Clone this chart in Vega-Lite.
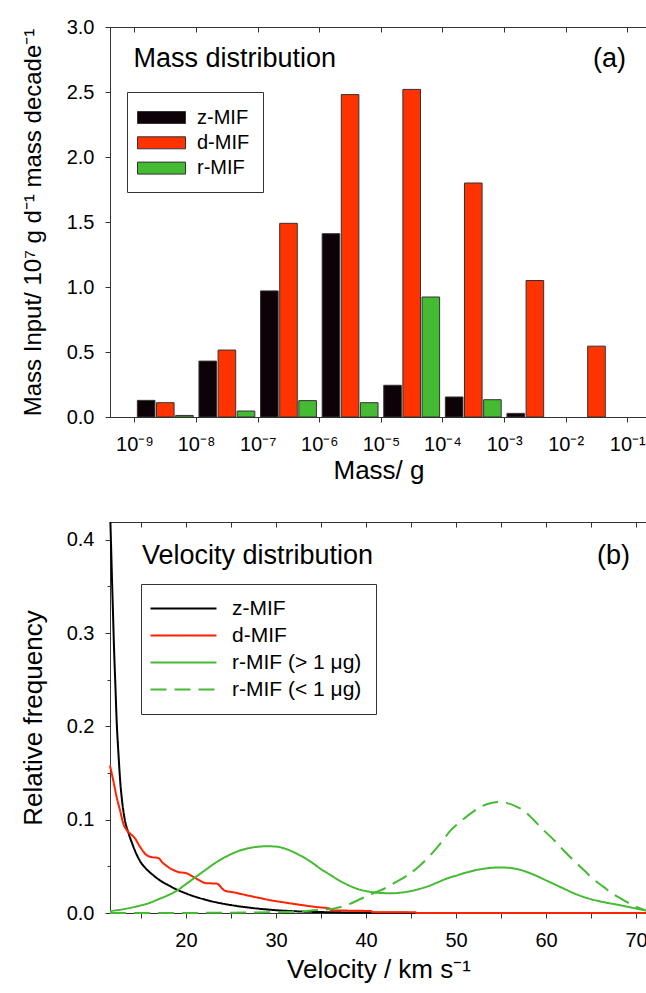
{
  "$schema": "https://vega.github.io/schema/vega-lite/v6.json",
  "padding": {"top": 16, "left": 19, "right": 0, "bottom": 0},
  "spacing": 33,
  "resolve": {
    "scale": {"color": "independent", "strokeDash": "independent"},
    "legend": {"color": "independent", "strokeDash": "independent"}
  },
  "config": {
    "font": "Liberation Sans",
    "view": {"stroke": "#333", "strokeWidth": 1},
    "axis": {
      "labelFont": "Liberation Sans", "titleFont": "Liberation Sans",
      "labelFontSize": 20, "titleFontSize": 26, "titleFontWeight": "normal",
      "labelColor": "#000", "titleColor": "#000", "tickColor": "#333", "domainColor": "#333",
      "tickSize": 5, "grid": false, "labelFlush": false, "labelOverlap": false
    },
    "text": {"font": "Liberation Sans"}
  },
  "datasets": {
    "mass": [
      {"bin": "1e-9", "series": "z-MIF", "value": 0.128},
      {"bin": "1e-9", "series": "d-MIF", "value": 0.11},
      {"bin": "1e-9", "series": "r-MIF", "value": 0.012},
      {"bin": "1e-8", "series": "z-MIF", "value": 0.43},
      {"bin": "1e-8", "series": "d-MIF", "value": 0.515},
      {"bin": "1e-8", "series": "r-MIF", "value": 0.046},
      {"bin": "1e-7", "series": "z-MIF", "value": 0.97},
      {"bin": "1e-7", "series": "d-MIF", "value": 1.49},
      {"bin": "1e-7", "series": "r-MIF", "value": 0.126},
      {"bin": "1e-6", "series": "z-MIF", "value": 1.41},
      {"bin": "1e-6", "series": "d-MIF", "value": 2.48},
      {"bin": "1e-6", "series": "r-MIF", "value": 0.11},
      {"bin": "1e-5", "series": "z-MIF", "value": 0.244},
      {"bin": "1e-5", "series": "d-MIF", "value": 2.52},
      {"bin": "1e-5", "series": "r-MIF", "value": 0.923},
      {"bin": "1e-4", "series": "z-MIF", "value": 0.154},
      {"bin": "1e-4", "series": "d-MIF", "value": 1.8},
      {"bin": "1e-4", "series": "r-MIF", "value": 0.133},
      {"bin": "1e-3", "series": "z-MIF", "value": 0.028},
      {"bin": "1e-3", "series": "d-MIF", "value": 1.05},
      {"bin": "1e-2", "series": "d-MIF", "value": 0.545}
    ],
    "notesA": [
      {"m": 9.64e-10, "value": 2.69, "label": "Mass distribution"},
      {"m": 0.0277, "value": 2.69, "label": "(a)"}
    ],
    "notesB": [
      {"v": 15.11, "f": 0.374, "label": "Velocity distribution"},
      {"v": 65.67, "f": 0.374, "label": "(b)"}
    ],
    "vel": [
      {"series": "z-MIF", "v": 11.6, "f": 0.419},
      {"series": "z-MIF", "v": 11.7, "f": 0.385},
      {"series": "z-MIF", "v": 11.8, "f": 0.35},
      {"series": "z-MIF", "v": 11.9, "f": 0.318},
      {"series": "z-MIF", "v": 12.0, "f": 0.285},
      {"series": "z-MIF", "v": 12.15, "f": 0.245},
      {"series": "z-MIF", "v": 12.3, "f": 0.205},
      {"series": "z-MIF", "v": 12.5, "f": 0.17},
      {"series": "z-MIF", "v": 12.7, "f": 0.14},
      {"series": "z-MIF", "v": 12.9, "f": 0.12},
      {"series": "z-MIF", "v": 13.2, "f": 0.1},
      {"series": "z-MIF", "v": 13.6, "f": 0.086},
      {"series": "z-MIF", "v": 14.0, "f": 0.075},
      {"series": "z-MIF", "v": 14.5, "f": 0.063},
      {"series": "z-MIF", "v": 15.0, "f": 0.054},
      {"series": "z-MIF", "v": 15.6, "f": 0.047},
      {"series": "z-MIF", "v": 16.3, "f": 0.041},
      {"series": "z-MIF", "v": 17.1, "f": 0.035},
      {"series": "z-MIF", "v": 18.0, "f": 0.03},
      {"series": "z-MIF", "v": 19.0, "f": 0.025},
      {"series": "z-MIF", "v": 20.0, "f": 0.021},
      {"series": "z-MIF", "v": 21.0, "f": 0.0175},
      {"series": "z-MIF", "v": 22.0, "f": 0.0147},
      {"series": "z-MIF", "v": 23.0, "f": 0.0122},
      {"series": "z-MIF", "v": 24.0, "f": 0.0102},
      {"series": "z-MIF", "v": 25.0, "f": 0.0085},
      {"series": "z-MIF", "v": 26.0, "f": 0.007},
      {"series": "z-MIF", "v": 27.0, "f": 0.0058},
      {"series": "z-MIF", "v": 28.0, "f": 0.0047},
      {"series": "z-MIF", "v": 29.0, "f": 0.0038},
      {"series": "z-MIF", "v": 30.0, "f": 0.003},
      {"series": "z-MIF", "v": 31.0, "f": 0.0024},
      {"series": "z-MIF", "v": 32.0, "f": 0.0019},
      {"series": "z-MIF", "v": 33.0, "f": 0.0015},
      {"series": "z-MIF", "v": 35.0, "f": 0.001},
      {"series": "z-MIF", "v": 37.0, "f": 0.0007},
      {"series": "z-MIF", "v": 39.0, "f": 0.0005},
      {"series": "z-MIF", "v": 41.0, "f": 0.0003},
      {"series": "z-MIF", "v": 43.0, "f": 0.0002},
      {"series": "z-MIF", "v": 45.5, "f": 0.0001},
      {"series": "d-MIF", "v": 11.556, "f": 0.158},
      {"series": "d-MIF", "v": 11.92, "f": 0.142},
      {"series": "d-MIF", "v": 12.3, "f": 0.124},
      {"series": "d-MIF", "v": 12.67, "f": 0.11},
      {"series": "d-MIF", "v": 13.03, "f": 0.096},
      {"series": "d-MIF", "v": 13.4, "f": 0.089},
      {"series": "d-MIF", "v": 13.8, "f": 0.085},
      {"series": "d-MIF", "v": 14.33, "f": 0.08},
      {"series": "d-MIF", "v": 14.89, "f": 0.071},
      {"series": "d-MIF", "v": 15.63, "f": 0.062},
      {"series": "d-MIF", "v": 16.1, "f": 0.06},
      {"series": "d-MIF", "v": 16.9, "f": 0.059},
      {"series": "d-MIF", "v": 17.4, "f": 0.054},
      {"series": "d-MIF", "v": 18.22, "f": 0.048},
      {"series": "d-MIF", "v": 19.14, "f": 0.044},
      {"series": "d-MIF", "v": 20.08, "f": 0.0425},
      {"series": "d-MIF", "v": 20.81, "f": 0.0386},
      {"series": "d-MIF", "v": 21.5, "f": 0.035},
      {"series": "d-MIF", "v": 22.2, "f": 0.032},
      {"series": "d-MIF", "v": 23.4, "f": 0.0315},
      {"series": "d-MIF", "v": 24.3, "f": 0.024},
      {"series": "d-MIF", "v": 25.26, "f": 0.0222},
      {"series": "d-MIF", "v": 26.75, "f": 0.019},
      {"series": "d-MIF", "v": 28.22, "f": 0.016},
      {"series": "d-MIF", "v": 29.5, "f": 0.0135},
      {"series": "d-MIF", "v": 30.8, "f": 0.0115},
      {"series": "d-MIF", "v": 32.5, "f": 0.009},
      {"series": "d-MIF", "v": 34.5, "f": 0.0064},
      {"series": "d-MIF", "v": 36.0, "f": 0.0047},
      {"series": "d-MIF", "v": 36.1, "f": 0.003},
      {"series": "d-MIF", "v": 40.6, "f": 0.002},
      {"series": "d-MIF", "v": 40.7, "f": 0.0008},
      {"series": "d-MIF", "v": 45.5, "f": 0.0008},
      {"series": "d-MIF", "v": 45.6, "f": 0},
      {"series": "d-MIF", "v": 71.22, "f": 0},
      {"series": "r-MIF (> 1 μg)", "v": 11.556, "f": 0.002},
      {"series": "r-MIF (> 1 μg)", "v": 13, "f": 0.004},
      {"series": "r-MIF (> 1 μg)", "v": 14.5, "f": 0.007},
      {"series": "r-MIF (> 1 μg)", "v": 16, "f": 0.011},
      {"series": "r-MIF (> 1 μg)", "v": 17, "f": 0.015},
      {"series": "r-MIF (> 1 μg)", "v": 18, "f": 0.019},
      {"series": "r-MIF (> 1 μg)", "v": 19, "f": 0.024},
      {"series": "r-MIF (> 1 μg)", "v": 20, "f": 0.031},
      {"series": "r-MIF (> 1 μg)", "v": 21, "f": 0.038},
      {"series": "r-MIF (> 1 μg)", "v": 22, "f": 0.045},
      {"series": "r-MIF (> 1 μg)", "v": 23, "f": 0.052},
      {"series": "r-MIF (> 1 μg)", "v": 24, "f": 0.058},
      {"series": "r-MIF (> 1 μg)", "v": 25, "f": 0.063},
      {"series": "r-MIF (> 1 μg)", "v": 26, "f": 0.067},
      {"series": "r-MIF (> 1 μg)", "v": 27, "f": 0.0695},
      {"series": "r-MIF (> 1 μg)", "v": 28, "f": 0.071},
      {"series": "r-MIF (> 1 μg)", "v": 29, "f": 0.0715},
      {"series": "r-MIF (> 1 μg)", "v": 30, "f": 0.0712},
      {"series": "r-MIF (> 1 μg)", "v": 31, "f": 0.069},
      {"series": "r-MIF (> 1 μg)", "v": 32, "f": 0.065},
      {"series": "r-MIF (> 1 μg)", "v": 33, "f": 0.06},
      {"series": "r-MIF (> 1 μg)", "v": 34, "f": 0.054},
      {"series": "r-MIF (> 1 μg)", "v": 35, "f": 0.047},
      {"series": "r-MIF (> 1 μg)", "v": 36, "f": 0.041},
      {"series": "r-MIF (> 1 μg)", "v": 37, "f": 0.035},
      {"series": "r-MIF (> 1 μg)", "v": 38, "f": 0.03},
      {"series": "r-MIF (> 1 μg)", "v": 39, "f": 0.026},
      {"series": "r-MIF (> 1 μg)", "v": 40, "f": 0.0235},
      {"series": "r-MIF (> 1 μg)", "v": 41, "f": 0.022},
      {"series": "r-MIF (> 1 μg)", "v": 42, "f": 0.0213},
      {"series": "r-MIF (> 1 μg)", "v": 43, "f": 0.0212},
      {"series": "r-MIF (> 1 μg)", "v": 44, "f": 0.022},
      {"series": "r-MIF (> 1 μg)", "v": 45, "f": 0.0235},
      {"series": "r-MIF (> 1 μg)", "v": 46, "f": 0.026},
      {"series": "r-MIF (> 1 μg)", "v": 47, "f": 0.029},
      {"series": "r-MIF (> 1 μg)", "v": 48, "f": 0.033},
      {"series": "r-MIF (> 1 μg)", "v": 49, "f": 0.037},
      {"series": "r-MIF (> 1 μg)", "v": 50, "f": 0.04},
      {"series": "r-MIF (> 1 μg)", "v": 51, "f": 0.043},
      {"series": "r-MIF (> 1 μg)", "v": 52, "f": 0.0455},
      {"series": "r-MIF (> 1 μg)", "v": 53, "f": 0.0473},
      {"series": "r-MIF (> 1 μg)", "v": 54, "f": 0.0485},
      {"series": "r-MIF (> 1 μg)", "v": 55, "f": 0.0488},
      {"series": "r-MIF (> 1 μg)", "v": 56, "f": 0.0483},
      {"series": "r-MIF (> 1 μg)", "v": 57, "f": 0.0465},
      {"series": "r-MIF (> 1 μg)", "v": 58, "f": 0.0435},
      {"series": "r-MIF (> 1 μg)", "v": 59, "f": 0.0395},
      {"series": "r-MIF (> 1 μg)", "v": 60, "f": 0.035},
      {"series": "r-MIF (> 1 μg)", "v": 61, "f": 0.0305},
      {"series": "r-MIF (> 1 μg)", "v": 62, "f": 0.026},
      {"series": "r-MIF (> 1 μg)", "v": 63, "f": 0.0215},
      {"series": "r-MIF (> 1 μg)", "v": 64, "f": 0.0178},
      {"series": "r-MIF (> 1 μg)", "v": 65, "f": 0.0148},
      {"series": "r-MIF (> 1 μg)", "v": 66, "f": 0.0125},
      {"series": "r-MIF (> 1 μg)", "v": 67, "f": 0.0105},
      {"series": "r-MIF (> 1 μg)", "v": 68, "f": 0.0088},
      {"series": "r-MIF (> 1 μg)", "v": 69, "f": 0.0068},
      {"series": "r-MIF (> 1 μg)", "v": 70, "f": 0.0048},
      {"series": "r-MIF (> 1 μg)", "v": 71.22, "f": 0.0025},
      {"series": "r-MIF (< 1 μg)", "v": 11.556, "f": 0},
      {"series": "r-MIF (< 1 μg)", "v": 20, "f": 0.0001},
      {"series": "r-MIF (< 1 μg)", "v": 25, "f": 0.0003},
      {"series": "r-MIF (< 1 μg)", "v": 30, "f": 0.0008},
      {"series": "r-MIF (< 1 μg)", "v": 33, "f": 0.002},
      {"series": "r-MIF (< 1 μg)", "v": 35, "f": 0.0035},
      {"series": "r-MIF (< 1 μg)", "v": 36.4, "f": 0.0047},
      {"series": "r-MIF (< 1 μg)", "v": 38, "f": 0.009},
      {"series": "r-MIF (< 1 μg)", "v": 39.4, "f": 0.015},
      {"series": "r-MIF (< 1 μg)", "v": 40.5, "f": 0.02},
      {"series": "r-MIF (< 1 μg)", "v": 42, "f": 0.026},
      {"series": "r-MIF (< 1 μg)", "v": 43.3, "f": 0.033},
      {"series": "r-MIF (< 1 μg)", "v": 44.55, "f": 0.04},
      {"series": "r-MIF (< 1 μg)", "v": 46, "f": 0.051},
      {"series": "r-MIF (< 1 μg)", "v": 47.15, "f": 0.062},
      {"series": "r-MIF (< 1 μg)", "v": 48.3, "f": 0.075},
      {"series": "r-MIF (< 1 μg)", "v": 49.4, "f": 0.0886},
      {"series": "r-MIF (< 1 μg)", "v": 50.5, "f": 0.098},
      {"series": "r-MIF (< 1 μg)", "v": 51.6, "f": 0.1065},
      {"series": "r-MIF (< 1 μg)", "v": 52.6, "f": 0.113},
      {"series": "r-MIF (< 1 μg)", "v": 53.6, "f": 0.117},
      {"series": "r-MIF (< 1 μg)", "v": 54.6, "f": 0.119},
      {"series": "r-MIF (< 1 μg)", "v": 55.6, "f": 0.118},
      {"series": "r-MIF (< 1 μg)", "v": 56.6, "f": 0.1145},
      {"series": "r-MIF (< 1 μg)", "v": 57.5, "f": 0.11},
      {"series": "r-MIF (< 1 μg)", "v": 58.6, "f": 0.1},
      {"series": "r-MIF (< 1 μg)", "v": 59.75, "f": 0.0886},
      {"series": "r-MIF (< 1 μg)", "v": 60.9, "f": 0.078},
      {"series": "r-MIF (< 1 μg)", "v": 61.97, "f": 0.067},
      {"series": "r-MIF (< 1 μg)", "v": 63.1, "f": 0.056},
      {"series": "r-MIF (< 1 μg)", "v": 64.2, "f": 0.046},
      {"series": "r-MIF (< 1 μg)", "v": 65.3, "f": 0.036},
      {"series": "r-MIF (< 1 μg)", "v": 66.4, "f": 0.028},
      {"series": "r-MIF (< 1 μg)", "v": 67.5, "f": 0.02},
      {"series": "r-MIF (< 1 μg)", "v": 68.65, "f": 0.0136},
      {"series": "r-MIF (< 1 μg)", "v": 69.8, "f": 0.0075},
      {"series": "r-MIF (< 1 μg)", "v": 71.0, "f": 0.003}
    ],
    "ticksA": [{"m": 1e-9}, {"m": 1e-1}]
  },
  "vconcat": [
    {
      "width": 537,
      "height": 390,
      "layer": [
        {
          "data": {"name": "mass"},
          "mark": {"type": "bar", "stroke": "#333", "strokeWidth": 1},
          "encoding": {
            "x": {
              "field": "bin", "type": "ordinal",
              "scale": {"domain": ["1e-9", "1e-8", "1e-7", "1e-6", "1e-5", "1e-4", "1e-3", "1e-2"], "paddingInner": 0, "paddingOuter": 0.3588, "align": 0.554},
              "axis": null
            },
            "xOffset": {
              "field": "series", "type": "nominal",
              "scale": {"domain": ["z-MIF", "d-MIF", "r-MIF"], "paddingInner": 0.08, "paddingOuter": 0.15}
            },
            "y": {
              "field": "value", "type": "quantitative",
              "scale": {"domain": [0, 3], "nice": false},
              "axis": {
                "orient": "left", "values": [0, 0.5, 1, 1.5, 2, 2.5, 3], "format": ".1f",
                "labelPadding": 11, "titlePadding": 21, "titleFontSize": 24,
                "title": "Mass Input/ 10⁷ g d⁻¹ mass decade⁻¹"
              }
            },
            "color": {
              "field": "series", "type": "nominal",
              "scale": {"domain": ["z-MIF", "d-MIF", "r-MIF"], "range": ["#0c0208", "#ff3300", "#44bb33"]},
              "legend": {
                "orient": "none", "legendX": 17, "legendY": 65, "title": null,
                "strokeColor": "#333", "padding": 13,
                "symbolType": "M-2,-0.5H2V0.5H-2Z", "symbolSize": 576,
                "symbolOffset": 9, "labelOffset": 23, "rowPadding": 2.3,
                "labelFontSize": 20, "labelFont": "Liberation Sans", "labelColor": "#000",
                "symbolStrokeColor": "#333", "symbolStrokeWidth": 1, "symbolOpacity": 1
              }
            }
          }
        },
        {
          "data": {"name": "notesA"},
          "mark": {"type": "text", "align": "left", "baseline": "alphabetic", "fontSize": 27, "color": "#000"},
          "encoding": {
            "x": {
              "field": "m", "type": "quantitative",
              "scale": {"type": "log", "domain": [4.0028e-10, 0.20883], "nice": false},
              "axis": {
                "orient": "bottom",
                "values": [1e-9, 1e-8, 1e-7, 1e-6, 1e-5, 1e-4, 1e-3, 1e-2, 1e-1],
                "labelExpr": "'10⁻' + ['⁰','¹','²','³','⁴','⁵','⁶','⁷','⁸','⁹'][-round(log(datum.value)/LN10)]",
                "labelPadding": 12, "title": "Mass/ g", "titlePadding": 3
              }
            },
            "y": {"field": "value", "type": "quantitative"},
            "text": {"field": "label"}
          }
        },
        {
          "data": {"name": "ticksA"},
          "mark": {"type": "point", "opacity": 0},
          "encoding": {
            "x": {
              "field": "m", "type": "quantitative",
              "scale": {"type": "log", "domain": [4.0028e-10, 0.20883], "nice": false},
              "axis": {
                "orient": "top",
                "values": [1e-9, 1e-8, 1e-7, 1e-6, 1e-5, 1e-4, 1e-3, 1e-2, 1e-1],
                "labels": false, "tickSize": 5, "offset": -5, "domain": false, "title": null
              }
            }
          }
        }
      ],
      "resolve": {"scale": {"x": "independent"}, "axis": {"x": "independent"}}
    },
    {
      "width": 537,
      "height": 391,
      "layer": [
        {
          "data": {"name": "vel"},
          "mark": {"type": "line", "strokeWidth": 2, "interpolate": "monotone", "clip": false},
          "encoding": {
            "x": {
              "field": "v", "type": "quantitative",
              "scale": {"domain": [11.556, 71.22], "nice": false, "zero": false},
              "axis": {
                "orient": "bottom",
                "values": [15, 20, 25, 30, 35, 40, 45, 50, 55, 60, 65, 70],
                "labelExpr": "datum.value % 10 === 0 ? datum.label : ''",
                "labelPadding": 12, "title": "Velocity / km s⁻¹", "titlePadding": 6
              }
            },
            "y": {
              "field": "f", "type": "quantitative",
              "scale": {"domain": [0, 0.419], "nice": false},
              "axis": {
                "orient": "left", "values": [0, 0.1, 0.2, 0.3, 0.4], "format": ".1f",
                "labelPadding": 11, "titlePadding": 20, "title": "Relative frequency"
              }
            },
            "color": {
              "field": "series", "type": "nominal",
              "scale": {
                "domain": ["z-MIF", "d-MIF", "r-MIF (> 1 μg)", "r-MIF (< 1 μg)"],
                "range": ["#000000", "#ff2200", "#44bb33", "#44bb33"]
              },
              "legend": {
                "orient": "none", "legendX": 31, "legendY": 62, "title": null,
                "strokeColor": "#333", "padding": 14,
                "symbolType": "M-4,0H4", "symbolSize": 272,
                "symbolOffset": 18, "labelOffset": 38, "rowPadding": 5,
                "labelFontSize": 21, "labelFont": "Liberation Sans", "labelColor": "#000",
                "symbolStrokeWidth": 2, "symbolFillColor": "transparent", "symbolOpacity": 1
              }
            },
            "strokeDash": {
              "field": "series", "type": "nominal",
              "scale": {
                "domain": ["z-MIF", "d-MIF", "r-MIF (> 1 μg)", "r-MIF (< 1 μg)"],
                "range": [[1, 0], [1, 0], [1, 0], [16, 8]]
              },
              "legend": {
                "orient": "none", "legendX": 31, "legendY": 62, "title": null,
                "strokeColor": "#333", "padding": 14,
                "symbolType": "M-4,0H4", "symbolSize": 272,
                "symbolOffset": 18, "labelOffset": 38, "rowPadding": 5,
                "labelFontSize": 21, "labelFont": "Liberation Sans", "labelColor": "#000",
                "symbolStrokeWidth": 2, "symbolFillColor": "transparent", "symbolOpacity": 1
              }
            }
          }
        },
        {
          "data": {"name": "notesB"},
          "mark": {"type": "text", "align": "left", "baseline": "alphabetic", "fontSize": 27, "color": "#000"},
          "encoding": {
            "x": {
              "field": "v", "type": "quantitative",
              "axis": {
                "orient": "top",
                "values": [15, 20, 25, 30, 35, 40, 45, 50, 55, 60, 65, 70],
                "labels": false, "tickSize": 5, "offset": -5, "domain": false, "title": null
              }
            },
            "y": {
              "field": "f", "type": "quantitative",
              "axis": {
                "orient": "left", "values": [0.05, 0.15, 0.25, 0.35],
                "labels": false, "tickSize": 3, "domain": false, "title": null
              }
            },
            "text": {"field": "label"}
          }
        }
      ],
      "resolve": {"axis": {"x": "independent", "y": "independent"}}
    }
  ]
}
